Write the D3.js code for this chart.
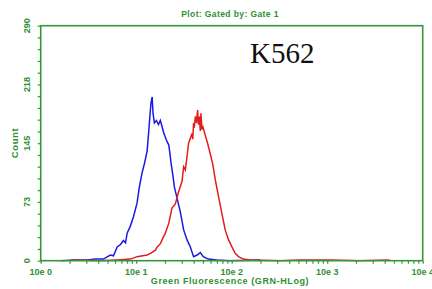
<!DOCTYPE html>
<html>
<head>
<meta charset="utf-8">
<script src="https://cdn.jsdelivr.net/npm/d3@7"></script>
<style>
  html, body { margin: 0; padding: 0; background: #fff; }
  svg { display: block; }
  .lbl { font-family: "Liberation Sans", Arial, sans-serif; font-weight: bold; }
</style>
</head>
<body>
<div id="chart"></div>
<script>
// channel fluorescence (GRN-HLog) and counts
const blueX = [1.62, 2.32, 3.08, 3.75, 4.55, 5.01, 5.38, 5.78, 6.32, 6.85, 7.36, 7.73, 8.04, 8.71, 9.35,
  10.2, 10.8, 11.5, 12.2, 13.0, 13.5, 13.9, 14.3, 14.7, 15.0, 15.5, 16.3, 17.1, 17.9, 18.7, 19.4,
  20.7, 21.9, 22.4, 23.2, 24.3, 25.1, 26.8, 29.0, 31.4, 34.0, 36.9, 39.9, 43.4, 46.9, 50.4, 56.9,
  70.0, 96.4, 199];
const blueCount = [0, 1, 1, 2, 2, 5, 7, 6, 17, 20, 25, 22, 34, 43, 54,
  71, 91, 108, 120, 135, 158, 178, 195, 202, 182, 170, 173, 168, 173, 165, 158,
  149, 143, 135, 120, 104, 91, 77, 60, 38, 26, 17, 5, 7, 10, 5, 2,
  1, 0, 1];

const redX = [2.06, 4.23, 6.32, 8.71, 10.2, 13.0, 14.1, 15.9, 16.6, 17.9, 19.4, 20.2, 21.9, 23.7, 25.7,
  27.8, 30.2, 31.4, 32.7, 34.0, 35.4, 38.4, 39.1, 39.9, 40.6, 41.6, 42.6, 44.0, 44.7, 45.8, 46.9,
  47.7, 48.8, 50.0, 52.8, 55.9, 59.6, 63.6, 67.3, 72.8, 79.0, 85.5, 92.6, 100.5, 108.8, 117.8, 132.8,
  156, 321, 519, 1069, 2198, 4520];
const redCount = [1, 0, 1, 2, 5, 7, 9, 13, 17, 21, 30, 34, 46, 65, 70,
  85, 98, 116, 112, 128, 145, 157, 150, 170, 164, 178, 170, 186, 168, 178, 160,
  182, 162, 165, 155, 145, 132, 118, 100, 79, 58, 38, 26, 17, 9, 5, 2,
  1, 0, 1, 1, 0, 1];

const xTickValues = [1, 10, 100, 1000, 10000];
const xTickLabels = ['10e 0', '10e 1', '10e 2', '10e 3', '10e 4'];
const yTickValues = [0, 72.5, 145, 217.5, 290];

const W = 432, H = 289;
const margin = { top: 25.7, right: 9.3, bottom: 28.3, left: 40.7 };
const width = W - margin.left - margin.right;
const height = H - margin.top - margin.bottom;
const green = '#36963a';
const textGreen = '#2f8f34';

const svg = d3.select('#chart').append('svg')
  .attr('width', W)
  .attr('height', H);

const g = svg.append('g')
  .attr('transform', 'translate(' + margin.left + ',' + margin.top + ')');

const x = d3.scaleLog().domain([1, 10000]).range([0, width]);
const y = d3.scaleLinear().domain([0, 290]).range([height, 0]);

g.append('clipPath').attr('id', 'clip')
  .append('rect').attr('width', width).attr('height', height + 1);

// histograms
const line = d3.line()
  .x(d => x(d[0]))
  .y(d => y(d[1]));

const series = [
  { xs: blueX, ys: blueCount, color: '#1a1ae6' },
  { xs: redX, ys: redCount, color: '#e41c1c' }
];
series.forEach(s => {
  g.append('path')
    .datum(s.xs.map((v, i) => [v, s.ys[i]]))
    .attr('clip-path', 'url(#clip)')
    .attr('fill', 'none')
    .attr('stroke', s.color)
    .attr('stroke-width', 1.5)
    .attr('d', line);
});

// frame
g.append('rect')
  .attr('width', width)
  .attr('height', height)
  .attr('fill', 'none')
  .attr('stroke', green)
  .attr('stroke-width', 1.6);

// x axis: decade labels, minor log ticks
const xMinor = [];
for (let d = 1; d < 10000; d *= 10) {
  for (let k = 1; k < 10; k++) xMinor.push(d * k);
}
xMinor.push(10000);

const xAxis = g.append('g')
  .attr('transform', 'translate(0,' + height + ')')
  .call(d3.axisBottom(x).tickValues(xMinor).tickSize(3).tickFormat(''));
xAxis.select('.domain').remove();
xAxis.selectAll('line').attr('stroke', green).attr('stroke-width', 1.2);

g.append('g')
  .selectAll('text')
  .data(xTickValues)
  .join('text')
  .attr('class', 'lbl')
  .attr('x', d => x(d))
  .attr('y', height + 14)
  .attr('text-anchor', 'middle')
  .attr('fill', textGreen)
  .attr('font-size', 9)
  .text((d, i) => xTickLabels[i]);

// y axis: minor ticks every 14.5, labels rotated
const yAxis = g.append('g')
  .call(d3.axisLeft(y).tickValues(d3.range(0, 291, 14.5)).tickSize(3).tickFormat(''));
yAxis.select('.domain').remove();
yAxis.selectAll('line').attr('stroke', green).attr('stroke-width', 1.2);

g.append('g')
  .selectAll('text')
  .data(yTickValues)
  .join('text')
  .attr('class', 'lbl')
  .attr('transform', d => 'translate(-11,' + y(d) + ') rotate(-90)')
  .attr('text-anchor', 'middle')
  .attr('fill', textGreen)
  .attr('font-size', 9)
  .text(d => Math.round(d));

// titles
svg.append('text')
  .attr('class', 'lbl')
  .attr('x', 230)
  .attr('y', 17)
  .attr('text-anchor', 'middle')
  .attr('fill', textGreen)
  .attr('font-size', 8.5)
  .attr('letter-spacing', 0.4)
  .text('Plot: Gated by: Gate 1');

svg.append('text')
  .attr('class', 'lbl')
  .attr('x', 230)
  .attr('y', 284)
  .attr('text-anchor', 'middle')
  .attr('fill', textGreen)
  .attr('font-size', 9)
  .attr('letter-spacing', 0.6)
  .text('Green Fluorescence (GRN-HLog)');

svg.append('text')
  .attr('class', 'lbl')
  .attr('transform', 'translate(18,143) rotate(-90)')
  .attr('text-anchor', 'middle')
  .attr('fill', textGreen)
  .attr('font-size', 9.5)
  .attr('letter-spacing', 0.6)
  .text('Count');

svg.append('text')
  .attr('x', 250)
  .attr('y', 63)
  .attr('fill', '#111')
  .style('font-family', '"Liberation Serif", "Times New Roman", serif')
  .style('font-size', '29px')
  .text('K562');
</script>
</body>
</html>
